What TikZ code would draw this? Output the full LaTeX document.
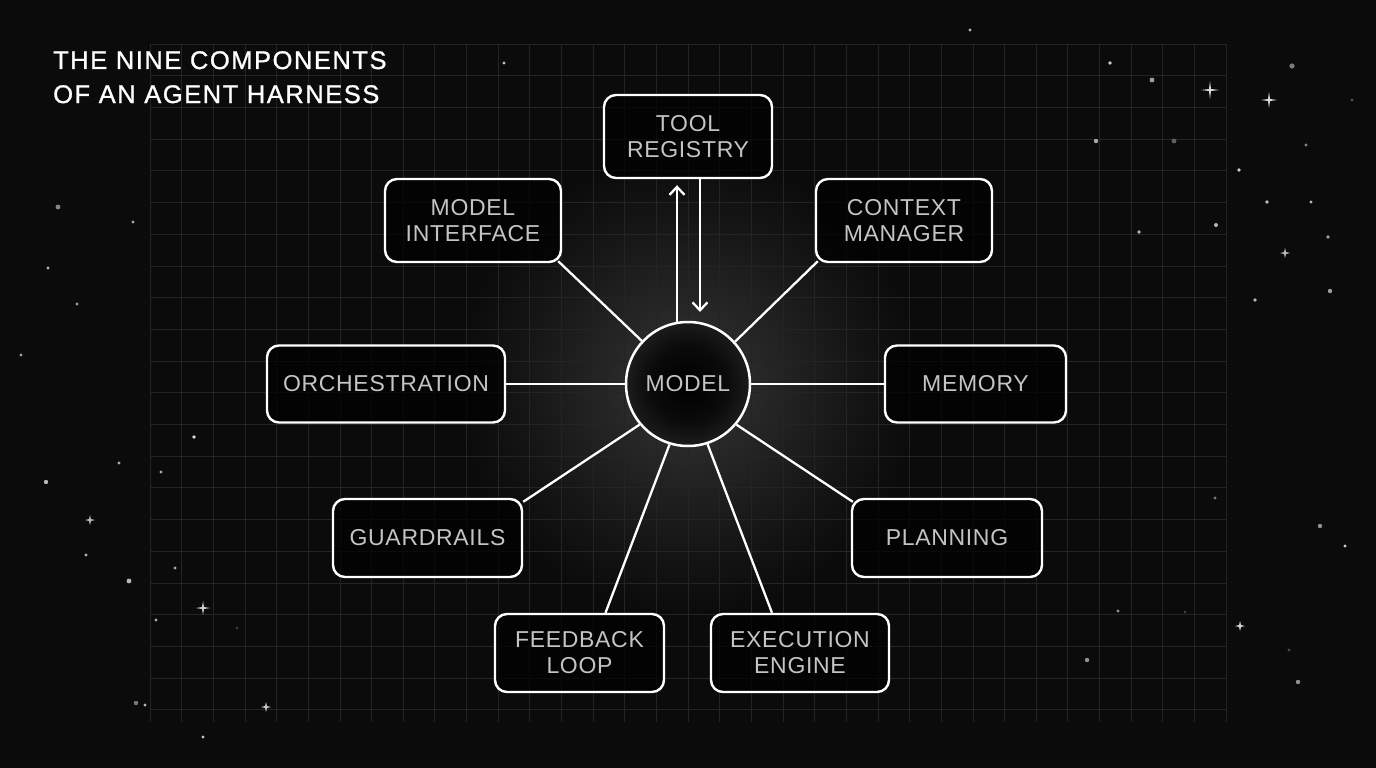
\documentclass[tikz,border=0pt]{standalone}
\usepackage{fontspec}
\setmainfont{Liberation Sans}
\newfontfamily\lblfont[LetterSpace=3]{Liberation Sans}
\newfontfamily\ttlfont[LetterSpace=6,FakeBold=1]{Liberation Sans}
\usetikzlibrary{arrows.meta,calc}
\definecolor{bg}{HTML}{0B0B0B}
\definecolor{gridc}{HTML}{242424}
\definecolor{lbl}{HTML}{C4C4C4}
\definecolor{glowc}{HTML}{383838}
\definecolor{glowm}{HTML}{252525}
\definecolor{corem}{HTML}{0A0A0A}
\definecolor{coree}{HTML}{1C1C1C}
\pgfdeclareradialshading{glowshade}{\pgfpoint{0bp}{0bp}}{color(0bp)=(glowc); color(9bp)=(glowm); color(18bp)=(bg!60!glowm); color(25bp)=(bg); color(50bp)=(bg)}
\pgfdeclareradialshading{coreshade}{\pgfpoint{0bp}{0bp}}{color(0bp)=(black); color(15bp)=(corem); color(25bp)=(coree); color(50bp)=(coree)}
\tikzset{
  comp/.style={draw=white, line width=2.4pt, rounded corners=12pt, fill=black,
    fill opacity=0.7, text opacity=1, text=lbl, align=center, inner sep=0pt,
    font=\lblfont\fontsize{23}{26}\selectfont},
  link/.style={draw=white, line width=2.3pt},
  tip/.style={-{Straight Barb[length=8pt,width=15pt]}},
  ttl/.style={text=white, anchor=base west, inner sep=0pt, font=\ttlfont\fontsize{25.5}{30}\selectfont},
}
\begin{document}
\begin{tikzpicture}[x=1pt,y=-1pt]
\useasboundingbox (0,0) rectangle (1376,768);
\fill[bg] (0,0) rectangle (1376,768);
% glow
\shade[shading=glowshade] (688,384) circle (230);
% grid
\foreach \k in {0,...,21} \draw[gridc, line width=0.8pt] (150,44+\k*31.7) -- (1226,44+\k*31.7);
\foreach \k in {0,...,34} \draw[gridc, line width=0.8pt] (150+\k*31.65,44) -- (150+\k*31.65,722);
% stars: dots
\foreach \x/\y/\r/\c in {
 970/30/1.6/70, 504/63/1.6/75, 1110/63/1.8/80, 1152/80/2.4/60, 1292/66/2.6/45,
 1306/145/1.6/50, 1096/141/2.2/65, 1139/232/1.8/70, 1174/141/2.4/35, 1239/170/1.8/80,
 1267/202/1.8/75, 1311/202/1.6/70, 1216/225/2.0/70, 1328/237/1.8/60, 1255/300/1.8/70, 1330/291/2.2/60,
 58/207/2.4/50, 133/222/1.6/65, 48/268/1.6/70, 77/304/1.6/60, 21/355/1.6/60,
 194/437/1.8/85, 119/463/1.6/65, 46/482/2.2/70, 161/472/1.6/65, 86/555/1.6/70,
 129/581/2.4/70, 175/568/1.6/65, 156/620/1.6/65, 237/628/1.6/20, 136/703/2.2/45, 145/705/1.6/70,
 203/737/1.6/75, 1215/498/1.6/45, 1320/526/2.2/55, 1345/546/1.6/80, 1118/611/1.6/55,
 1185/612/1.4/25, 1087/660/2.2/55, 1289/650/1.6/25, 1298/682/2.2/55, 1352/100/1.6/30}
 \fill[white!\c!bg] (\x,\y) circle (\r);
% stars: sparkles
\foreach \x/\y/\s/\c in {1210/90/9/85, 1269/100/8/85, 1285/253/5/70, 90/520/5/70,
 203/608/7/80, 266/707/5/75, 1240/626/5/80}
 \fill[white!\c!bg, shift={(\x,\y)}] (0,-\s) -- (1,-1) -- (\s,0) -- (1,1) -- (0,\s) -- (-1,1) -- (-\s,0) -- (-1,-1) -- cycle;
% title
\node[ttl] (title1) at (53,69) {THE NINE COMPONENTS};
\node[ttl] (title2) at (53,103) {OF AN AGENT HARNESS};
% model core
\shade[shading=coreshade] (688,384) circle (62);
\node[circle, draw=white, line width=2.5pt, minimum size=124pt, inner sep=0pt, text=lbl,
  font=\lblfont\fontsize{23}{26}\selectfont] (model) at (688,384) {MODEL};
% components
\node[comp, minimum width=168pt, minimum height=83pt] (tool) at (688,136.5) {TOOL\\REGISTRY};
\node[comp, minimum width=176pt, minimum height=83pt] (mi) at (473,220.5) {MODEL\\INTERFACE};
\node[comp, minimum width=176pt, minimum height=83pt] (cm) at (904,220.5) {CONTEXT\\MANAGER};
\node[comp, minimum width=238pt, minimum height=77pt] (orch) at (386,384) {ORCHESTRATION};
\node[comp, minimum width=181pt, minimum height=77pt] (mem) at (975.5,384) {MEMORY};
\node[comp, minimum width=189pt, minimum height=78pt] (guard) at (427.5,538) {GUARDRAILS};
\node[comp, minimum width=190pt, minimum height=78pt] (plan) at (947,538) {PLANNING};
\node[comp, minimum width=169pt, minimum height=78pt] (fb) at (579.5,653) {FEEDBACK\\LOOP};
\node[comp, minimum width=178pt, minimum height=78pt] (exec) at (800,653) {EXECUTION\\ENGINE};
% connectors
\draw[link] (model.137) -- ($(mi.south east)+(-4,-2)$);
\draw[link] (model.42) -- ($(cm.south west)+(3,-2)$);
\draw[link] (model.west) -- (orch.east);
\draw[link] (model.east) -- (mem.west);
\draw[link] (model.-140) -- ($(guard.north east)+(0,4)$);
\draw[link] (model.-40) -- ($(plan.north west)+(2,4)$);
\draw[link] (model.-107) -- ($(fb.north)+(26,0)$);
\draw[link] (model.-72) -- ($(exec.north)+(-28,0)$);
\draw[link, tip] ($(model.center)+(-11,-61)$) -- ($(tool.south)+(-11,6)$);
\draw[link, tip] ($(tool.south)+(12,0)$) -- ($(model.center)+(12,-72)$);
\end{tikzpicture}
\end{document}
